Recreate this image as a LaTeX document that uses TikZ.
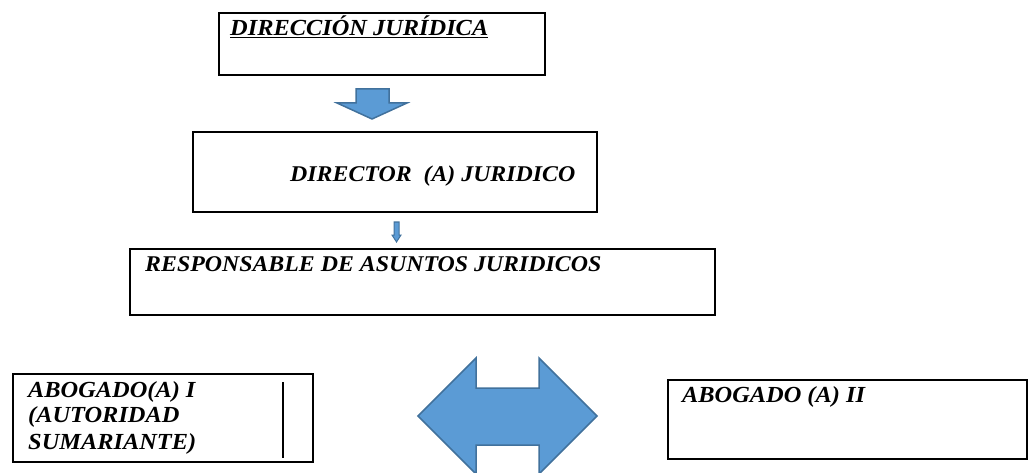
\documentclass[tikz,border=0pt]{standalone}
\usepackage{fontspec}
\setmainfont{Liberation Serif}[FakeStretch=1.06]
\begin{document}
\begin{tikzpicture}[x=1pt,y=-1pt,
  box/.style={draw=black,line width=2.4pt,anchor=north west,inner sep=0pt},
  lbl/.style={anchor=base west,inner sep=0pt,font=\bfseries\itshape\fontsize{23}{27}\selectfont},
  blockarrow/.style={fill=arrowfill,draw=arrowline,line width=1.5pt,line join=miter}]
\definecolor{arrowfill}{HTML}{5B9BD5}
\definecolor{arrowline}{HTML}{41719C}
\useasboundingbox (0,0) rectangle (1033,473);
% boxes
\node[box,minimum width=326pt,minimum height=62pt] (b1) at (218,12) {};
\node[box,minimum width=404pt,minimum height=80pt] (b2) at (192,131) {};
\node[box,minimum width=585pt,minimum height=66pt] (b3) at (129,248) {};
\node[box,minimum width=300pt,minimum height=88pt] (b4) at (12,373) {};
\node[box,minimum width=359pt,minimum height=79pt] (b5) at (667,379) {};
% texts
\node[lbl] (t1) at (230,36) {\underline{DIRECCIÓN JURÍDICA}};
\node[lbl,font=\bfseries\itshape\fontsize{22.5}{27}\selectfont] (t2) at (290,182) {DIRECTOR\ \ (A) JURIDICO};
\node[lbl,font=\bfseries\itshape\fontsize{22.5}{27}\selectfont] (t3) at (145,271) {RESPONSABLE DE ASUNTOS JURIDICOS};
\node[lbl] (t4a) at (28,397) {ABOGADO(A) I};
\node[lbl] (t4b) at (28,422) {(AUTORIDAD};
\node[lbl] (t4c) at (28,449) {SUMARIANTE)};
\node[lbl] (t5) at (682,402) {ABOGADO (A) II};
% stray vertical line in box 4
\coordinate (v1) at (283,382);
\coordinate (v2) at (283,458);
\draw[line width=1.8pt] (v1) -- (v2);
% down block arrow between b1 and b2
\draw[blockarrow] (356,89) -- (389,89) -- (389,103) -- (407,103) -- (372,119) -- (337,103) -- (356,103) -- cycle;
% thin arrow between b2 and b3
\draw[blockarrow,line width=1pt] (394,222) -- (399,222) -- (399,235) -- (401,235) -- (396.5,242) -- (392,235) -- (394,235) -- cycle;
% double block arrow
\draw[blockarrow] (418,416) -- (476,358) -- (476,388) -- (539,388) -- (539,358) -- (597,416) -- (539,474) -- (539,445) -- (476,445) -- (476,474) -- cycle;
\end{tikzpicture}
\end{document}
